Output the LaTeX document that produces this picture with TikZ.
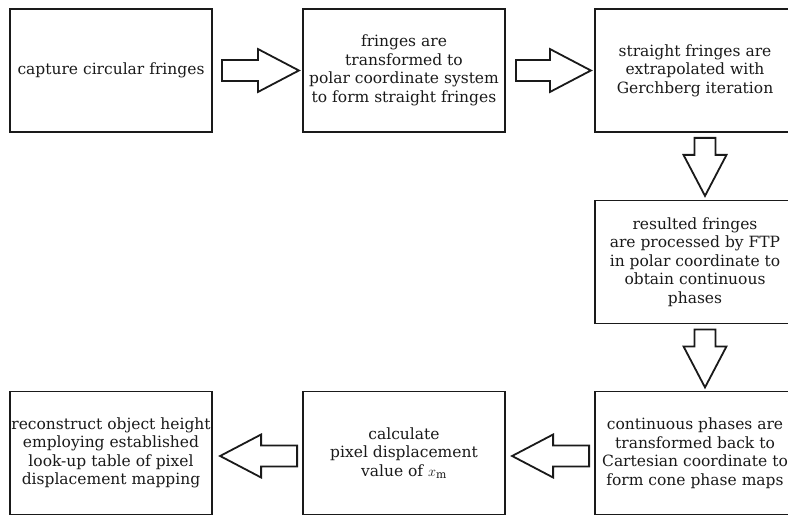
\documentclass[tikz,border=0pt]{standalone}
\usepackage{fontspec}
\setmainfont{DejaVu Serif}
\usetikzlibrary{positioning}
\definecolor{ink}{HTML}{1A1A1A}
\tikzset{
  stepbox/.style={draw=ink,line width=1.8pt,minimum width=#1,minimum height=123pt,
    align=center,inner sep=0pt,text=ink},
  stepbox/.default=202pt,
  pics/fat/.style={code={
    \draw[ink,line width=1.8pt,line join=miter,fill=white]
      (0,-10.5) -- ({#1-41},-10.5) -- ({#1-41},-21.5) -- (#1,0)
      -- ({#1-41},21.5) -- ({#1-41},10.5) -- (0,10.5) -- cycle;}},
}
\begin{document}
\begin{tikzpicture}[x=1pt,y=-1pt,font=\fontsize{15.5}{18.5}\selectfont]
  \useasboundingbox[fill=white] (0,0) rectangle (788,516);

  % top row
  \node[stepbox]       (capture) at (111,70.5) {capture circular fringes};
  \node[stepbox]       (polar)   at (404,70.5) {fringes are\\transformed to\\polar coordinate system\\to form straight fringes};
  \node[stepbox=200pt] (gerch)   at (695,70.5) {straight fringes are\\extrapolated with\\Gerchberg iteration};
  % right column
  \node[stepbox=200pt] (ftp)     at (695,262)  {resulted fringes\\are processed by FTP\\in polar coordinate to\\obtain continuous\\phases};
  \node[stepbox=200pt] (cart)    at (695,453)  {continuous phases are\\transformed back to\\Cartesian coordinate to\\form cone phase maps};
  % bottom row
  \node[stepbox]       (calc)    at (404,453)  {calculate\\pixel displacement\\value of $x_{\mathrm{m}}$};
  \node[stepbox]       (recon)   at (111,453)  {reconstruct object height\\employing established\\look-up table of pixel\\displacement mapping};

  \pic at ([xshift=9pt]capture.east) {fat=77};
  \pic at ([xshift=10pt]polar.east) {fat=75};
  \pic[rotate=-90] at ([xshift=10pt,yshift=-5pt]gerch.south) {fat=58};
  \pic[rotate=-90] at ([xshift=10pt,yshift=-5pt]ftp.south) {fat=58};
  \pic[rotate=180] at ([xshift=-5pt,yshift=-3pt]cart.west) {fat=77};
  \pic[rotate=180] at ([xshift=-5pt,yshift=-3pt]calc.west) {fat=77};
\end{tikzpicture}
\end{document}
